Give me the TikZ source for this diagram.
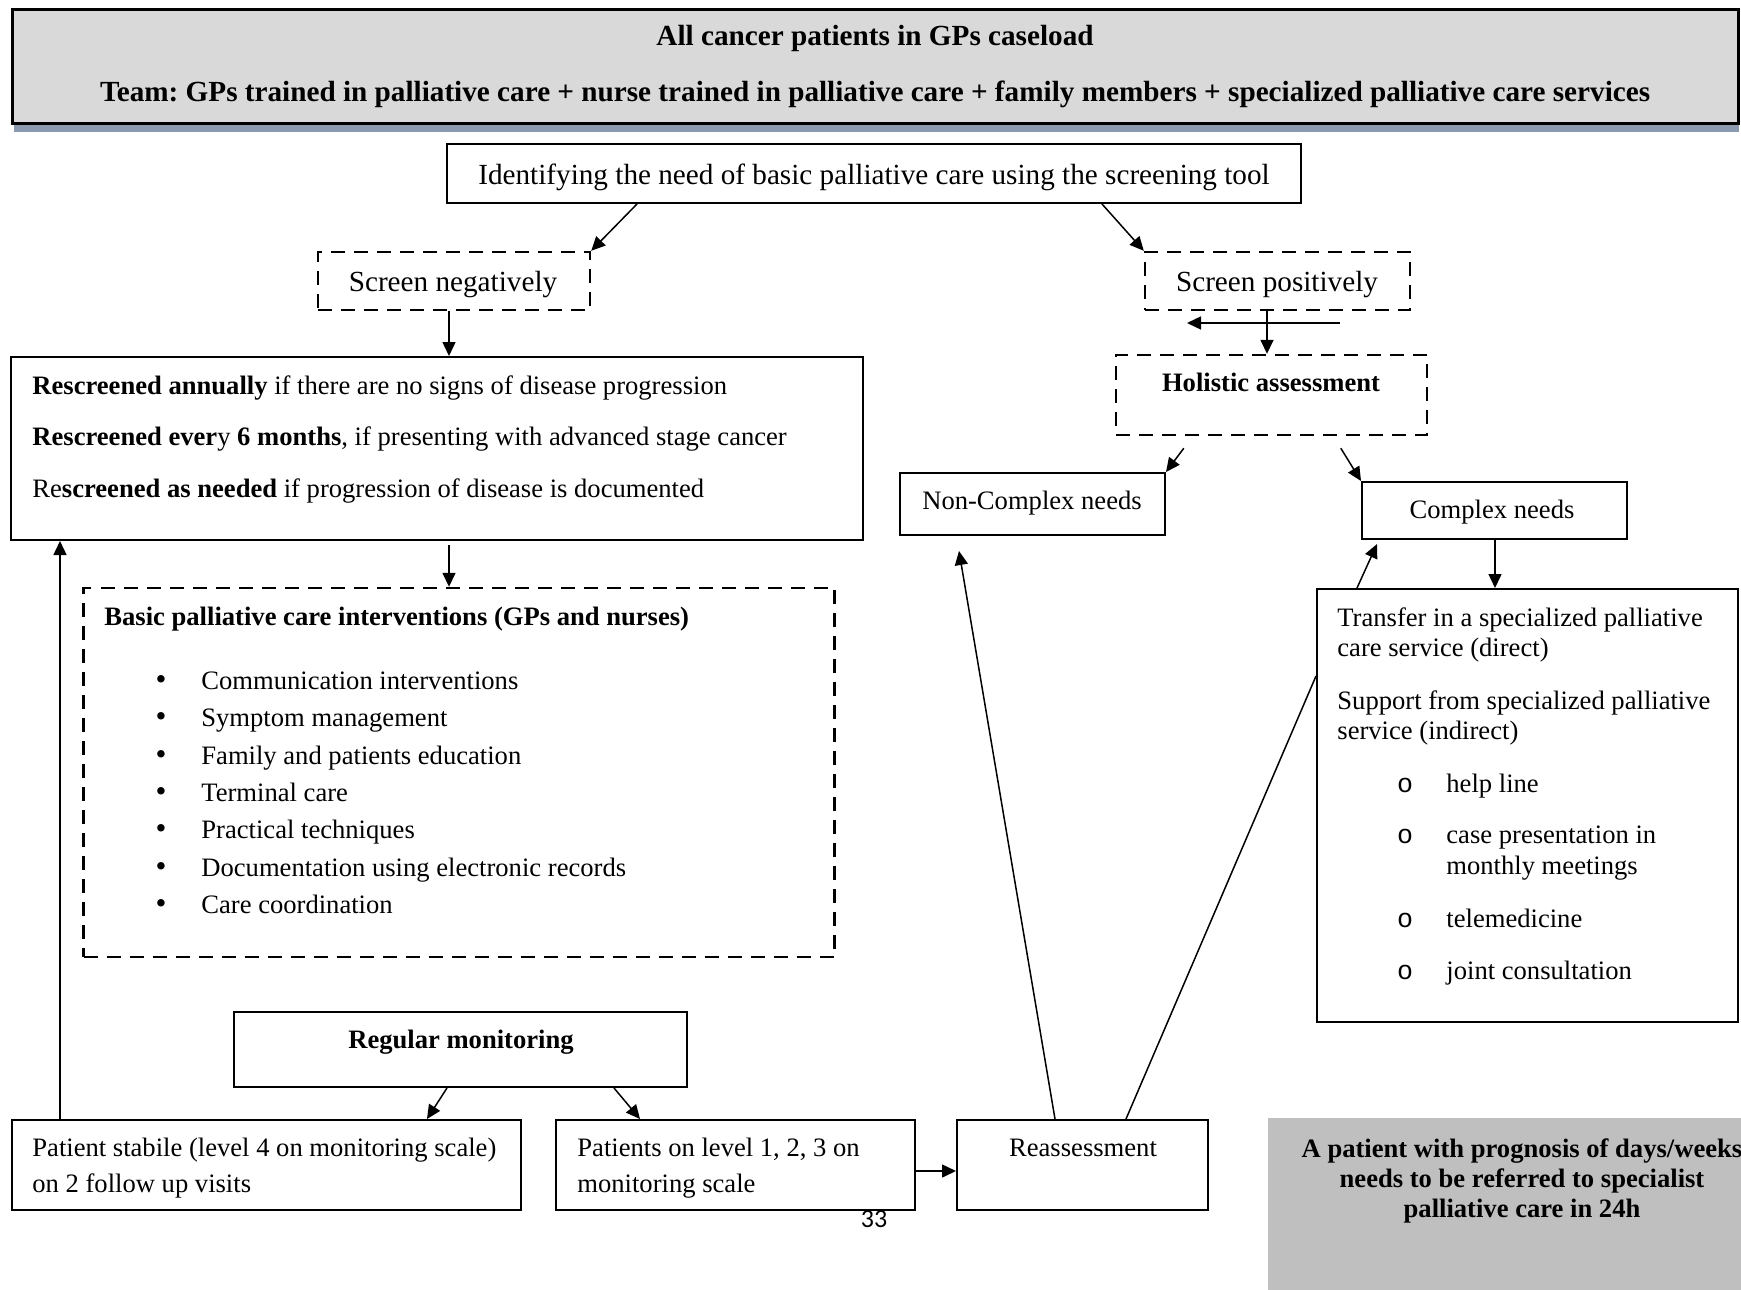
\documentclass[tikz,border=0pt]{standalone}
\usepackage{fontspec}
\setmainfont{Liberation Serif}
\newfontfamily\pagefont{Carlito}
\newfontfamily\circfont{Liberation Mono}
\usetikzlibrary{arrows.meta,calc}

\definecolor{headfill}{RGB}{217,217,217}
\definecolor{headshadow}{RGB}{140,154,176}
\definecolor{notefill}{RGB}{191,191,191}

\begin{document}
\frenchspacing
\begin{tikzpicture}[x=0.5pt,y=-0.5pt,
  every node/.append style={execute at begin node=\strut},
  big/.style={font=\fontsize{14.6}{17.5}\selectfont},
  bigbold/.style={font=\fontsize{14.6}{17.5}\selectfont\bfseries},
  small/.style={font=\fontsize{13.3}{15}\selectfont},
  smallbold/.style={font=\fontsize{13.3}{15}\selectfont\bfseries},
  solidbox/.style={draw, line width=1pt, rectangle, inner sep=0},
  dashbox/.style={draw, line width=1.2pt, dash pattern=on 7pt off 4.5pt, rectangle, inner sep=0},
  arr/.style={-{Triangle[length=7pt,width=6.5pt]}, line width=0.75pt},
  plainline/.style={line width=0.75pt},
  lbl/.style={inner sep=0, anchor=west},
  clbl/.style={inner sep=0},
  dotbullet/.style={inner sep=0, font=\fontsize{15.5}{15}\selectfont},
]
\path[use as bounding box] (0,0) rectangle (1741,1290);

% ---- header band with its shadow ----
\fill[headshadow] (14,110) rectangle (1739,132);
\node[solidbox, line width=1.5pt, fill=headfill, minimum width=863pt, minimum height=57pt] (head) at (875,66) {};
\node[clbl, bigbold] (headA) at (875,39) {All cancer patients in GPs caseload};
\node[clbl, bigbold] (headB) at (875,94) {Team: GPs trained in palliative care + nurse trained in palliative care + family members + specialized palliative care services};

% ---- screening ----
\node[solidbox, minimum width=427pt, minimum height=29.5pt] (ident) at (874,173.5) {};
\node[clbl, big] (identT) at (874,177) {Identifying the need of basic palliative care using the screening tool};
\node[dashbox, minimum width=136pt, minimum height=29pt] (sneg) at (454,281) {};
\node[clbl, big] (snegT) at (453,284.5) {Screen negatively};
\node[dashbox, minimum width=132.5pt, minimum height=29pt] (spos) at (1277.5,281) {};
\node[clbl, big] (sposT) at (1277,284.5) {Screen positively};

% ---- holistic assessment and needs ----
\node[dashbox, minimum width=155.5pt, minimum height=40pt] (holi) at (1271.5,395) {};
\node[clbl, smallbold] (holiT) at (1271,385.5) {Holistic assessment};
\node[solidbox, minimum width=132.5pt, minimum height=31pt] (ncx) at (1032.5,504) {};
\node[clbl, small] (ncxT) at (1032,503.5) {Non-Complex needs};
\node[solidbox, minimum width=132.5pt, minimum height=28.5pt] (cx) at (1494.5,510.5) {};
\node[clbl, small] (cxT) at (1492,512.5) {Complex needs};

% ---- rescreening ----
\node[solidbox, minimum width=426pt, minimum height=91.5pt] (resc) at (437,448.5) {};
\node[lbl, small] (rescA) at (32,388) {\textbf{Rescreened annually} if there are no signs of disease progression};
\node[lbl, small] (rescB) at (32,439) {\textbf{Rescreened ever}y \textbf{6 months}, if presenting with advanced stage cancer};
\node[lbl, small] (rescC) at (32,491) {Re\textbf{screened as needed} if progression of disease is documented};

% ---- basic interventions ----
\node[dashbox, minimum width=375.5pt, minimum height=184.5pt] (basic) at (459,772.5) {};
\node[lbl, smallbold] (basicT) at (104,619) {Basic palliative care interventions (GPs and nurses)};
\foreach \yy/\txt [count=\i] in {683/Communication interventions, 720.5/Symptom management,
    758/Family and patients education, 795/Terminal care, 832/Practical techniques,
    870/Documentation using electronic records, 907/Care coordination}{
  \node[lbl, small] (bitem\i) at (201,\yy) {\txt};
  \node[dotbullet, anchor=base] (bdot\i) at ([xshift=-20pt]bitem\i.base west) {•};
}

% ---- specialised services ----
\node[solidbox, minimum width=210.5pt, minimum height=216.5pt] (trans) at (1527.5,805.5) {};
\node[lbl, small, align=left] (transA) at (1337,637) {Transfer in a specialized palliative\\care service (direct)\strut};
\node[lbl, small, align=left] (transB) at (1337,720) {Support from specialized palliative\\service (indirect)\strut};
\node[lbl, small] (oitem1) at (1446,786) {help line};
\node[lbl, font=\fontsize{13.3}{15.5}\selectfont, align=left] (oitem2) at (1446,855) {case presentation in\\monthly meetings\strut};
\node[lbl, small] (oitem3) at (1446,921) {telemedicine};
\node[lbl, small] (oitem4) at (1446,973) {joint consultation};
\foreach \i in {1,3,4}{
  \node[inner sep=0, small, anchor=base] (odot\i) at ([xshift=-20.5pt]oitem\i.base west) {\circfont o};
}
\node[inner sep=0, small, anchor=base] (odot2) at ([xshift=-20.5pt,yshift=15.5pt]oitem2.base west) {\circfont o};

% ---- monitoring ----
\node[solidbox, minimum width=226.5pt, minimum height=37.5pt] (regmon) at (460.5,1049.5) {};
\node[clbl, smallbold] (regmonT) at (461,1042) {Regular monitoring};
\node[solidbox, minimum width=254.5pt, minimum height=45pt] (stab) at (266.5,1165) {};
\node[lbl, small] (stabA) at (32,1150) {Patient stabile (level 4 on monitoring scale)};
\node[lbl, small] (stabB) at (32,1186) {on 2 follow up visits};
\node[solidbox, minimum width=179.5pt, minimum height=45pt] (level) at (735.5,1165) {};
\node[lbl, small] (levelA) at (577,1150) {Patients on level 1, 2, 3 on};
\node[lbl, small] (levelB) at (577,1186) {monitoring scale};
\node[solidbox, minimum width=125.5pt, minimum height=45pt] (reass) at (1082.5,1165) {};
\node[clbl, small] (reassT) at (1083,1150) {Reassessment};

% ---- referral note ----
\node[fill=notefill, draw=none, minimum width=237pt, minimum height=86pt, inner sep=0] (note) at (1505,1204) {};
\node[clbl, smallbold] (noteA) at (1522,1151) {A patient with prognosis of days/weeks};
\node[clbl, smallbold] (noteB) at (1522,1181) {needs to be referred to specialist};
\node[clbl, smallbold] (noteC) at (1522,1211) {palliative care in 24h};

% ---- page number ----
\node[clbl, font=\pagefont\fontsize{13}{14}\selectfont] (pagenum) at (874,1222) {33};

% ---- connectors ----
\draw[arr] ($(ident.south west)+(191,0)$) -- (sneg.north east);
\draw[arr] ($(ident.south west)+(656,0)$) -- (spos.north west);
\draw[arr] ($(sneg.south)+(-5,0)$) -- ($(sneg.south |- resc.north)+(-5,0)$);
\draw[arr] ($(spos.south)+(-10.5,0)$) -- ($(spos.south |- holi.north)+(-10.5,0)$);
\coordinate (hfrom) at (1340,323);
\coordinate (hto) at (1187,323);
\draw[arr] (hfrom) -- (hto);
\draw[arr] ($(resc.south)+(12,4)$) -- ($(resc.south |- basic.north)+(12,0)$);
\draw[arr] ($(holi.south west)+(69,12)$) -- (ncx.north east);
\draw[arr] ($(holi.south west)+(226,12)$) -- (cx.north west);
\draw[arr] ($(cx.south)+(0.5,0)$) -- ($(cx.south |- trans.north)+(0.5,0)$);
\draw[arr] ($(trans.north west)+(41,0)$) -- ($(cx.south west)+(16,4)$);
\draw[arr] ($(reass.north west)+(99,0)$) -- ($(ncx.south west)+(60,15)$);
\draw[plainline] ($(reass.north west)+(170,0)$) -- ($(trans.north west)+(0,88)$);
\draw[arr] ($(regmon.south west)+(214,0)$) -- ($(stab.north west)+(416,0)$);
\draw[arr] ($(regmon.south west)+(381,0)$) -- ($(level.north west)+(85,0)$);
\draw[arr] ($(level.east)+(0,6)$) -- ($(reass.west)+(0,6)$);
\draw[arr] ($(stab.north west)+(49,0)$) -- ($(resc.south west)+(50,0)$);
\end{tikzpicture}
\end{document}
